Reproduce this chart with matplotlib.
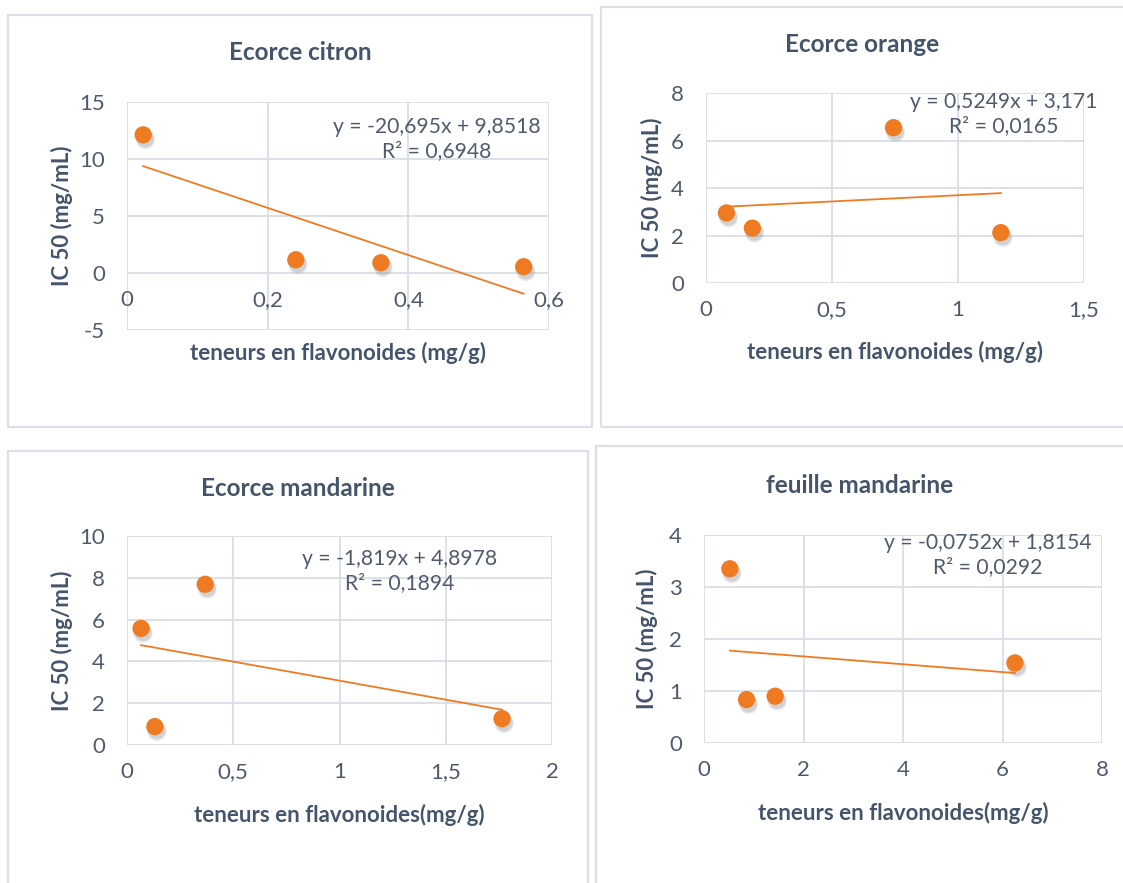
import matplotlib.pyplot as plt
import matplotlib.transforms as mtransforms
from matplotlib.patches import Rectangle
from matplotlib.ticker import FuncFormatter, MultipleLocator

plt.rcParams['font.family'] = ['Lato', 'DejaVu Sans']

W, H = 1123, 883
DPI = 100

TEXT_COLOR = '#44546A'
TICK_COLOR = '#4F5B6D'
GRID_COLOR = '#D9DEE6'
BORDER_COLOR = '#DCE0E6'
ORANGE = '#EE7A22'

# data
citron_x = [0.023, 0.240, 0.361, 0.564]
citron_y = [12.12, 1.16, 0.90, 0.55]
citron_fit = (-20.695, 9.8518)

orange_x = [0.081, 0.184, 0.744, 1.170]
orange_y = [2.95, 2.31, 6.54, 2.12]
orange_fit = (0.5249, 3.171)

mandarine_x = [0.066, 0.131, 0.368, 1.765]
mandarine_y = [5.58, 0.88, 7.69, 1.26]
mandarine_fit = (-1.819, 4.8978)

feuille_x = [0.52, 0.855, 1.43, 6.25]
feuille_y = [3.35, 0.835, 0.90, 1.54]
feuille_fit = (-0.0752, 1.8154)

PANELS = [
    dict(title='Ecorce citron', x=citron_x, y=citron_y, fit=citron_fit,
         eq='y = -20,695x + 9,8518', r2='R² = 0,6948',
         xlabel='teneurs en flavonoides (mg/g)',
         xlim=(0, 0.6), xstep=0.2, ylim=(-5, 15), ystep=5,
         box=(8, 15, 592, 427), axes=(127, 102, 549, 330),
         eq_pos=(437, 139), xlab_y=353, ylab_x=62, title_y=53),
    dict(title='Ecorce orange', x=orange_x, y=orange_y, fit=orange_fit,
         eq='y = 0,5249x + 3,171', r2='R² = 0,0165',
         xlabel='teneurs en flavonoides (mg/g)',
         xlim=(0, 1.5), xstep=0.5, ylim=(0, 8), ystep=2,
         box=(601, 7, 1130, 427), axes=(706, 93, 1084, 283),
         eq_pos=(1004, 114), xlab_y=352, ylab_x=652, title_y=45),
    dict(title='Ecorce mandarine', x=mandarine_x, y=mandarine_y, fit=mandarine_fit,
         eq='y = -1,819x + 4,8978', r2='R² = 0,1894',
         xlabel='teneurs en flavonoides(mg/g)',
         xlim=(0, 2), xstep=0.5, ylim=(0, 10), ystep=2,
         box=(8, 451, 588, 890), axes=(127, 536, 552, 745),
         eq_pos=(400, 571), xlab_y=815, ylab_x=62, title_y=488),
    dict(title='feuille mandarine', x=feuille_x, y=feuille_y, fit=feuille_fit,
         eq='y = -0,0752x + 1,8154', r2='R² = 0,0292',
         xlabel='teneurs en flavonoides(mg/g)',
         xlim=(0, 8), xstep=2, ylim=(0, 4), ystep=1,
         box=(596, 446, 1130, 890), axes=(704, 535, 1102, 743),
         eq_pos=(988, 555), xlab_y=813, ylab_x=647, title_y=485),
]


def fx(px):
    return px / W


def fy(py):
    return 1 - py / H


def comma_fmt(v, pos=None):
    return f'{v:g}'.replace('.', ',')


fig = plt.figure(figsize=(W / DPI, H / DPI), dpi=DPI)
fig.patch.set_facecolor('white')

for p in PANELS:
    bx0, by0, bx1, by1 = p['box']
    fig.add_artist(Rectangle((fx(bx0), fy(by1)), fx(bx1 - bx0), (by1 - by0) / H,
                             transform=fig.transFigure, fill=False,
                             edgecolor=BORDER_COLOR, linewidth=1.6))

    ax0, ay0, ax1, ay1 = p['axes']
    ax = fig.add_axes([fx(ax0), fy(ay1), fx(ax1 - ax0), (ay1 - ay0) / H])
    ax.set_xlim(*p['xlim'])
    ax.set_ylim(*p['ylim'])
    ax.xaxis.set_major_locator(MultipleLocator(p['xstep']))
    ax.yaxis.set_major_locator(MultipleLocator(p['ystep']))
    ax.xaxis.set_major_formatter(FuncFormatter(comma_fmt))
    ax.yaxis.set_major_formatter(FuncFormatter(comma_fmt))
    ax.grid(True, color=GRID_COLOR, linewidth=1.3)
    ax.set_axisbelow(True)
    for s in ax.spines.values():
        s.set_visible(False)
    ax.spines['bottom'].set_position(('data', 0))
    ax.tick_params(length=0, labelsize=16, labelcolor=TICK_COLOR)
    ax.tick_params(axis='x', pad=12)
    ax.tick_params(axis='y', pad=16)

    # soft shadow + markers
    for dx, dy, al, sz in [(1.5, -3.5, 0.18, 190), (1.5, -3, 0.25, 150)]:
        shadow = mtransforms.offset_copy(ax.transData, fig=fig, x=dx, y=dy,
                                         units='points')
        ax.scatter(p['x'], p['y'], s=sz, color='#8a8a8a', alpha=al,
                   edgecolors='none', transform=shadow, zorder=2, clip_on=False)
    ax.scatter(p['x'], p['y'], s=155, color=ORANGE, edgecolors='none',
               zorder=3, clip_on=False)

    # linear trendline from first to last x
    a, b = p['fit']
    xs = [min(p['x']), max(p['x'])]
    ax.plot(xs, [a * v + b for v in xs], color=ORANGE, linewidth=1.3, zorder=2)

    cx = (bx0 + min(bx1, W)) / 2
    fig.text(fx(cx), fy(p['title_y']), p['title'], ha='center', va='center',
             fontsize=17.5, fontweight='bold', color=TEXT_COLOR)
    fig.text(fx((ax0 + ax1) / 2), fy(p['xlab_y']), p['xlabel'], ha='center',
             va='center', fontsize=16, fontweight='bold', color=TEXT_COLOR)
    fig.text(fx(p['ylab_x']), fy((ay0 + ay1) / 2), 'IC 50 (mg/mL)', ha='center',
             va='center', rotation=90, fontsize=16, fontweight='bold',
             color=TEXT_COLOR)
    ex, ey = p['eq_pos']
    fig.text(fx(ex), fy(ey), p['eq'] + '\n' + p['r2'], ha='center', va='center',
             fontsize=15.2, color=TICK_COLOR, linespacing=1.3)

fig.savefig('out.png', dpi=DPI)
